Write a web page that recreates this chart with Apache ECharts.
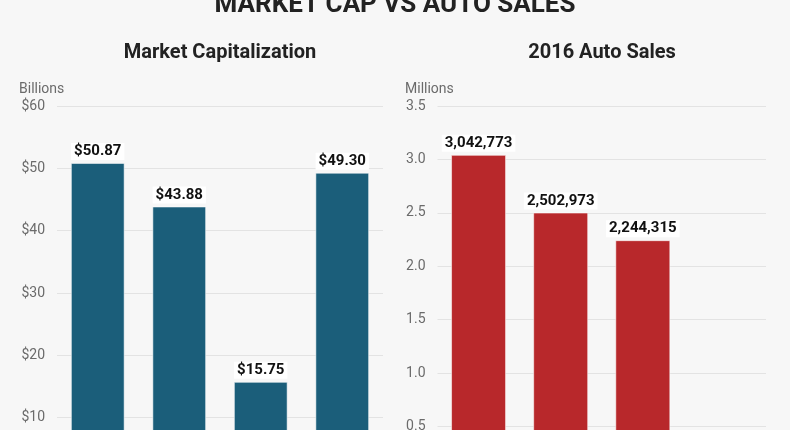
<!DOCTYPE html>
<html>
<head>
<meta charset="utf-8">
<script src="https://cdn.jsdelivr.net/npm/echarts@6/dist/echarts.min.js"></script>
<style>
html,body{margin:0;padding:0;background:#f7f7f7;}
#chart{width:790px;height:430px;}
</style>
</head>
<body>
<div id="chart"></div>
<script>
const companies = ['GM', 'Ford', 'FCA', 'Tesla'];
const marketCap = [50.87, 43.88, 15.75, 49.30];      // billions USD
const autoSales = [3042773, 2502973, 2244315, 76230]; // units sold 2016
const capTicks = { min: 0, max: 60, interval: 10 };
const salesTicks = { min: 0, max: 3.5, interval: 0.5 };

const FONT = 'Roboto';
const chart = echarts.init(document.getElementById('chart'), null, { renderer: 'canvas' });

const labelStyle = {
  show: true,
  position: 'top',
  distance: 3,
  color: '#111',
  fontFamily: FONT,
  fontWeight: 'bold',
  fontSize: 15,
  backgroundColor: '#ffffff',
  padding: [1, 3, 1, 3]
};

const axisCommon = {
  axisLine: { show: false },
  axisTick: { show: false },
  splitLine: { lineStyle: { color: '#e3e3e3', width: 1 } },
  axisLabel: { color: '#6b6b6b', fontFamily: FONT, fontSize: 14, margin: 12 }
};

chart.setOption({
  backgroundColor: '#f7f7f7',
  animation: false,
  title: [
    { text: 'MARKET CAP VS AUTO SALES', left: 'center', top: -13,
      textStyle: { fontFamily: FONT, fontWeight: 'bold', fontSize: 26, color: '#222' } },
    { text: 'Market Capitalization', left: 215, textAlign: 'center', top: 38,
      textStyle: { fontFamily: FONT, fontWeight: 'bold', fontSize: 20, color: '#222' } },
    { text: '2016 Auto Sales', left: 597, textAlign: 'center', top: 38,
      textStyle: { fontFamily: FONT, fontWeight: 'bold', fontSize: 20, color: '#222' } }
  ],
  graphic: [
    { type: 'text', left: 19, top: 82, style: { text: 'Billions', fill: '#6b6b6b', font: '14px Roboto' } },
    { type: 'text', left: 405, top: 82, style: { text: 'Millions', fill: '#6b6b6b', font: '14px Roboto' } }
  ],
  grid: [
    { left: 57, width: 326, top: 106, height: 374, outerBoundsMode: 'none', containLabel: false },
    { left: 437.5, width: 328.5, top: 106, height: 374, outerBoundsMode: 'none', containLabel: false }
  ],
  xAxis: [
    { type: 'category', gridIndex: 0, data: companies, axisLine: { show: false }, axisTick: { show: false }, axisLabel: { show: false } },
    { type: 'category', gridIndex: 1, data: companies, axisLine: { show: false }, axisTick: { show: false }, axisLabel: { show: false } }
  ],
  yAxis: [
    Object.assign({ type: 'value', gridIndex: 0 }, capTicks, axisCommon, {
      axisLabel: Object.assign({}, axisCommon.axisLabel, { formatter: v => '$' + v })
    }),
    Object.assign({ type: 'value', gridIndex: 1 }, salesTicks, axisCommon, {
      axisLabel: Object.assign({}, axisCommon.axisLabel, { formatter: v => v.toFixed(1) })
    })
  ],
  series: [
    {
      type: 'bar', xAxisIndex: 0, yAxisIndex: 0, data: marketCap,
      barCategoryGap: '34%',
      itemStyle: { color: '#1b5e7a', borderColor: 'rgba(255,255,255,0.55)', borderWidth: 1 },
      label: Object.assign({}, labelStyle, { formatter: p => '$' + p.value.toFixed(2) })
    },
    {
      type: 'bar', xAxisIndex: 1, yAxisIndex: 1,
      data: autoSales.map(v => v / 1e6),
      barCategoryGap: '33%',
      itemStyle: { color: '#b8282b', borderColor: 'rgba(255,255,255,0.55)', borderWidth: 1 },
      label: Object.assign({}, labelStyle, {
        formatter: p => autoSales[p.dataIndex].toLocaleString('en-US')
      })
    }
  ]
});
</script>
</body>
</html>
